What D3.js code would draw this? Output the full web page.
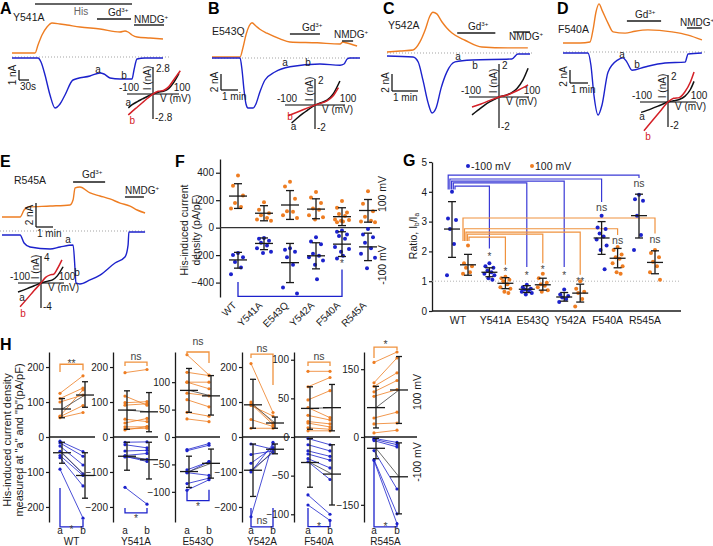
<!DOCTYPE html>
<html><head><meta charset="utf-8">
<script src="https://cdn.jsdelivr.net/npm/d3@7"></script>
<style>body{margin:0;background:#fff}svg{display:block}</style>
</head><body><script>
// ================= DATA =================
const categories = ["WT","Y541A","E543Q","Y542A","F540A","R545A"];

// Panels A-E: whole-cell traces, [time (s), current (nA)]; orange = +100 mV, blue = -100 mV
const traceA_orange = [[0,0.4],[69,0.4],[78,1.2],[90,2.2],[105,3.0],[120,3.4],[144,3.3],[165,3.2],[204,3.0],[264,2.8],[324,2.5],[339,2.6],[348,2.5],[360,2.2],[375,2.0],[414,1.9],[453,1.8]];
const traceA_blue = [[0,-0.1],[78,-0.1],[87,-0.5],[99,-1.8],[114,-3.8],[129,-5.1],[144,-4.7],[159,-3.8],[183,-2.3],[234,-1.9],[264,-1.6],[276,-1.7],[294,-2.1],[324,-2.2],[360,-2.2],[366,-1.3],[375,-0.2],[399,-0.1],[453,-0.1]];
const traceB_orange = [[0,0.12],[99,0.12],[109,1.25],[120,2.9],[131,4.0],[141,4.4],[155,4.0],[169,3.6],[194,3.1],[240,2.4],[275,2.0],[371,1.9],[452,1.75],[462,2.0],[473,1.9],[512,1.5]];
const traceB_blue = [[0,0],[99,0],[106,-1.5],[113,-4.0],[120,-5.75],[127,-6.25],[145,-6.25],[155,-5.75],[169,-4.25],[187,-2.75],[222,-1.75],[275,-1.1],[381,-0.75],[452,-0.9],[466,-0.75],[477,-0.12],[487,0],[522,0]];
const traceC_orange = [[0,0.12],[30,0.24],[60,0.35],[76,1.3],[88,2.7],[99,4.35],[106,4.8],[115,4.6],[127,3.65],[138,2.95],[150,2.35],[180,1.5],[219,0.7],[279,0.6],[325,0.6]];
const traceC_blue = [[0,-0.35],[60,-0.47],[72,-1.06],[83,-3.2],[95,-5.9],[104,-7.05],[113,-6.5],[125,-4.1],[138,-2.25],[157,-1.05],[196,-0.82],[288,-0.7],[302,-0.12],[330,-0.12]];
const traceD_orange = [[0,1.38],[57,1.38],[90,1.54],[100,3.4],[110,6.15],[120,7.4],[130,6.45],[150,4.45],[167,3.1],[207,2.9],[240,3.2],[283,3.4],[363,3.1],[417,2.6],[463,1.85]];
const traceD_blue = [[0,-0.15],[83,-0.15],[93,-2.0],[103,-6.6],[117,-9.7],[130,-8.15],[150,-3.1],[183,-1.2],[200,-0.9],[213,-1.55],[230,-2.8],[273,-2.3],[340,-1.7],[407,-1.55],[417,-0.3],[463,-0.15]];
const traceE_orange = [[7,1.17],[71,1.17],[85,1.75],[99,2.0],[177,2.08],[247,2.17],[258,2.6],[265,3.6],[282,3.67],[318,3.17],[353,2.92],[388,2.67],[424,2.33],[459,2.08],[484,1.75],[512,1.5]];
const traceE_blue = [[7,-0.33],[71,-0.33],[85,-1.0],[106,-1.33],[177,-1.5],[212,-1.33],[258,-1.17],[265,-3.25],[268,-4.33],[282,-4.42],[318,-4.08],[353,-3.67],[406,-2.67],[441,-2.17],[452,-1.17],[455,-0.08],[512,-0.08]];
// time points ("a","b") marked on the -100 mV traces: [time (s), current (nA)]
const marksA = [[258,-1.6],[336,-2.2]];
const marksB = [[258,-1.0],[339,-1.0]];
const marksC = [[164,-0.8],[203,-1.9]];
const marksD = [[197,-0.9],[247,-2.45]];
const marksE = [[240,-1.0],[272,-3.75]];
// solution application periods, [start, end] in s
const solA = [["His",69,360],["Gd",255,357],["NMDG",366,456]];
const solB = [["Gd",275,381],["NMDG",459,498]];
const solC = [["Gd",162,250],["NMDG",291,330]];
const solD = [["Gd",213,327],["NMDG",413,463]];
const solE = [["Gd",258,371],["NMDG",441,508]];
// I-V curves at points a (black) and b (red): [V (mV), I (nA)]
const ivA_a = [[-95,-1.55],[-80,-1.2],[-60,-0.85],[-40,-0.55],[-20,-0.25],[0,0],[20,0.2],[40,0.3],[60,0.6],[80,1.3],[100,2.3]];
const ivA_b = [[-95,-2.35],[-80,-1.95],[-60,-1.45],[-40,-0.95],[-20,-0.45],[0,0],[20,0.3],[40,0.4],[60,0.8],[80,1.6],[105,2.6]];
const ivB_a = [[-78,-1.5],[-60,-1.1],[-40,-0.7],[-20,-0.35],[0,0],[20,0.2],[40,0.4],[60,0.9],[83,2.0]];
const ivB_b = [[-90,-0.9],[-60,-0.6],[-40,-0.4],[-20,-0.2],[0,0],[20,0.15],[40,0.35],[60,0.75],[78,1.45]];
const ivC_a = [[-90,-1.15],[-70,-0.85],[-50,-0.55],[-30,-0.3],[-10,-0.1],[0,0],[20,0.1],[40,0.25],[60,0.55],[80,1.1],[97,1.85]];
const ivC_b = [[-90,-0.65],[-60,-0.45],[-30,-0.22],[0,0],[30,0.15],[60,0.4],[97,0.78]];
const ivD_a = [[-96,-0.83],[-60,-0.55],[-30,-0.28],[0,0],[20,0.1],[40,0.2],[60,0.45],[80,1.0],[93,1.65]];
const ivD_b = [[-86,-2.3],[-60,-1.6],[-30,-0.8],[0,0],[20,0.3],[40,0.35],[60,0.8],[80,1.6],[93,2.4]];
const ivE_a = [[-100,-1.45],[-60,-0.9],[-30,-0.45],[0,0],[30,0.3],[50,0.5],[70,1.1],[96,2.6]];
const ivE_b = [[-91,-3.8],[-60,-2.5],[-30,-1.2],[0,0],[20,0.9],[40,1.3],[55,1.4],[70,2.2],[91,3.7]];

// Panel F: His-induced current density (pA/pF)
const fPos = [[380,305,235,180,150,140],[185,130,105,90,70,60,50],[335,300,210,120,115,90,70],[260,220,180,140,130,90,75,60],[195,145,110,100,85,60,55,50,45,40],[265,175,120,80,50,45,40]];
const fNeg = [[-185,-200,-215,-250,-290,-340],[-75,-80,-95,-110,-130,-150,-175,-185],[-150,-160,-175,-215,-270,-435,-480],[-70,-100,-120,-190,-205,-215,-240,-270,-375],[-20,-30,-50,-60,-80,-140,-155,-175,-205,-225],[-10,-50,-70,-110,-150,-190,-220,-295]];
const fPosMean = [230,105,165,135,80,125];
const fPosErr = [[140,320],[50,160],[60,270],[65,210],[15,145],[40,205]];
const fNegMean = [-235,-115,-255,-205,-120,-140];
const fNegErr = [[-180,-295],[-75,-160],[-115,-400],[-110,-300],[-30,-210],[-40,-240]];
const fTicks = [-400,-200,0,200,400];

// Panel G: ratio Ib/Ia
const gNeg = [[4.0,3.1,3.05,2.75,2.25,1.2],[1.6,1.5,1.45,1.35,1.3,1.25,1.2,1.1,1.05],[0.88,0.8,0.75,0.72,0.7,0.65,0.6,0.55],[0.72,0.55,0.5,0.45,0.4,0.3],[3.2,2.8,2.75,2.6,2.5,2.4,2.2,2.05,1.4],[3.9,3.75,3.7,3.2,2.55,2.05]];
const gPos = [[2.2,1.6,1.5,1.45,1.3,1.25],[1.15,1.1,1.05,1.0,0.9,0.8,0.75,0.65,0.6],[1.25,1.1,0.95,0.9,0.85,0.8,0.7,0.65],[1.0,0.75,0.65,0.6,0.4,0.15],[2.15,2.05,1.9,1.8,1.75,1.6,1.5,1.3,1.25],[2.05,1.95,1.8,1.65,1.5,1.3,1.05]];
const gNegMean = [2.75,1.3,0.73,0.47,2.45,3.2];
const gNegErr = [[1.8,3.67],[1.15,1.45],[0.62,0.85],[0.33,0.62],[1.9,3.0],[2.45,3.92]];
const gPosMean = [1.55,0.93,0.88,0.6,1.77,1.63];
const gPosErr = [[1.2,1.9],[0.75,1.12],[0.7,1.1],[0.3,0.9],[1.45,2.1],[1.25,2.02]];
const gNegSig = ["","*","*","*","ns","ns"];
const gPosSig = ["","*","*","**","ns","ns"];
const gNegBracket = [null,[4.19,2.1],[4.30,1.48],[4.36,1.48],[4.43,3.66],[4.56,4.46]];
const gPosBracket = [null,[2.48,1.55],[2.58,1.6],[2.65,1.22],[2.76,2.55],[3.12,2.6]];
const gTicks = [0,1,2,3,4,5];

// Panel H: paired current density at "a" and "b" (pA/pF)
const hPosA = [[125,110,100,60,58,55],[184,117,98,91,51,40,29,23,20],[150,118,100,100,80,68,45,33],[210,100,95,90,50,25],[85,65,48,38,28,20,18,12,8],[165,120,112,100,90,42,29,9]];
const hPosB = [[175,140,120,135,90,70],[193,91,101,95,44,53,29,25,30],[113,112,100,88,75,55,38,28],[70,40,35,60,30,25],[85,77,60,25,22,17,13,10,8],[188,175,142,125,105,55,31,15]];
const hNegA = [[-12,-17,-26,-41,-53,-59,-92],[-15,-22,-40,-53,-57,-55,-144],[-23,-25,-60,-65,-65,-85,-97],[-20,-50,-75,-95,-100,-228],[-2,-10,-18,-22,-28,-32,-75,-88],[-3,-5,-8,-30,-50,-52]];
const hNegB = [[-42,-55,-80,-105,-110,-140,-232],[-14,-31,-38,-47,-64,-70,-192],[-12,-15,-45,-45,-70,-75,-78],[-35,-40,-30,-45,-20,-15],[-10,-18,-25,-30,-40,-55,-100,-108],[-12,-17,-22,-115,-170,-192]];
const hPosMean = [[80,120],[77,72],[85,75],[92,40],[37,38],[65,104]];
const hPosErr = [[[55,110],[85,158]],[[22,132],[15,127]],[[45,125],[40,112]],[[25,165],[25,57]],[[10,65],[8,68]],[[20,112],[30,178]]];
const hNegMean = [[-45,-110],[-55,-65],[-63,-48],[-95,-35],[-33,-48],[-25,-88]];
const hNegErr = [[[-15,-75],[-45,-175]],[[-15,-95],[-15,-120]],[[-35,-92],[-22,-75]],[[-20,-170],[-20,-48]],[[-2,-65],[-10,-88]],[[-3,-48],[-13,-170]]];
const hSigPos = ["**","ns","ns","ns","ns","*"];
const hSigNeg = ["*","*","*","ns","*","*"];
const hBracketPos = [[208,186,191],[214,203,203],[155,149,135],[237,226,149],[97,92,92],[199,175,192]];
const hBracketNeg = [[-257,-146,-237],[-217,-203,-203],[-116,-96,-96],[-257,-203,-203],[-116,-92,-107],[-199,-51,-188]];
const hTicks = [[-200,-100,0,100,200],[-200,-100,0,100,200],[-100,-50,0,50,100],[-200,-100,0,100,200],[-100,-50,0,50,100],[-150,0,150]];
const hRange = [243,243,155,243,110,188];

// ================= DRAWING =================
const FONT = '"Liberation Sans", Arial, Helvetica, sans-serif';
const OR = "#ee7d22", BL = "#1c22cc", RD = "#d42027", INK = "#1a1a1a", SIG = "#444";
const svg = d3.select("body").append("svg").attr("width",713).attr("height",546).style("font-family",FONT);
const fmtInt = d3.format("d");

function T(g,x,y,s,o={}){
  const size=o.size||10;
  const t=g.append("text").attr("x",x).attr("y",y).attr("font-size",size)
    .attr("fill",o.fill||INK).attr("text-anchor",o.anchor||"start");
  if(o.bold) t.attr("font-weight","bold");
  if(o.rot!==undefined) t.attr("transform",`rotate(${o.rot},${x},${y})`);
  if(Array.isArray(s)){
    let cur=0;
    s.forEach(p=>{
      const sh = p.sup ? -size*0.4 : (p.sub ? size*0.22 : 0);
      const ts=t.append("tspan").text(p.t).attr("dy",sh-cur);
      if(p.sup||p.sub) ts.attr("font-size",size*0.62);
      cur=sh;
    });
  } else t.text(s);
  return t;
}
function L(g,x1,y1,x2,y2,c,w){
  return g.append("line").attr("x1",x1).attr("y1",y1).attr("x2",x2).attr("y2",y2)
    .attr("stroke",c||INK).attr("stroke-width",w||1.2);
}
function styleAxis(sel){
  sel.attr("font-family",FONT).attr("font-size",10);
  sel.select(".domain").attr("stroke",INK).attr("stroke-width",1.3);
  sel.selectAll(".tick line").attr("stroke",INK).attr("stroke-width",1.2);
  sel.selectAll(".tick text").attr("fill",INK);
}
function errBar(g,x,mean,lo,hi,ys,half,cap){
  L(g,x,ys(lo),x,ys(hi),INK,1.3);
  L(g,x-cap,ys(lo),x+cap,ys(lo),INK,1.3);
  L(g,x-cap,ys(hi),x+cap,ys(hi),INK,1.3);
  L(g,x-half,ys(mean),x+half,ys(mean),INK,1.3);
}

// ---------- Trace panels A-E ----------
const solText = {
  His: {s:"His", fill:"#666"},
  Gd: {s:[{t:"Gd"},{t:"3+",sup:true}]},
  NMDG: {s:[{t:"NMDG"},{t:"+",sup:true}]}
};
const tracePanels = [
  {letter:"A",lx:0,ly:14,name:"Y541A",nx:13,ny:21,x0:12,y0:57,pxs:1/3,pxn:10,dotEnd:170,
   orange:traceA_orange,blue:traceA_blue,marks:marksA,sol:solA,
   solLayout:{His:{y:4,tx:81,ty:15,anchor:"middle"},Gd:{y:19,tx:108,ty:16},NMDG:{y:25,tx:134,ty:23}},
   sb:{x:19,y:80,nA:1,sec:30,nl:"1 nA",sl:"30s"},
   iv:{cx:153,cy:94,hx:26,hy:25,imax:2.8,a:ivA_a,b:ivA_b,aOff:[0,-2],bOff:[4,9],lab:"2.8"}},
  {letter:"B",lx:208,ly:14,name:"E543Q",nx:212,ny:35,x0:212,y0:58,pxs:17/60,pxn:8,dotEnd:362,
   orange:traceB_orange,blue:traceB_blue,marks:marksB,sol:solB,
   solLayout:{Gd:{y:34,tx:302,ty:31},NMDG:{y:41,tx:334,ty:38}},
   sb:{x:221,y:90,nA:2,sec:60,nl:"2 nA",sl:"1 min"},
   iv:{cx:315,cy:105,hx:30,hy:24,imax:2,a:ivB_a,b:ivB_b,aOff:[2,7],bOff:[2,4],lab:"2"}},
  {letter:"C",lx:383,ly:14,name:"Y542A",nx:388,ny:29,x0:387,y0:53,pxs:26/60,pxn:8.5,dotEnd:532,
   orange:traceC_orange,blue:traceC_blue,marks:marksC,sol:solC,
   solLayout:{Gd:{y:33,tx:468,ty:30},NMDG:{y:32,tx:509,ty:40}},
   sb:{x:392,y:91,nA:2,sec:60,nl:"2 nA",sl:"1 min"},
   iv:{cx:499,cy:97,hx:30,hy:31,imax:2,a:ivC_a,b:ivC_b,aOff:null,bOff:null,lab:"2"}},
  {letter:"D",lx:557,ly:14,name:"F540A",nx:558,ny:33,x0:563,y0:52,pxs:18/60,pxn:6.5,dotEnd:706,
   orange:traceD_orange,blue:traceD_blue,marks:marksD,sol:solD,
   solLayout:{Gd:{y:21,tx:635,ty:18},NMDG:{y:28,tx:680,ty:26}},
   sb:{x:570,y:83,nA:2,sec:60,nl:"2 nA",sl:"1 min"},
   iv:{cx:668,cy:102,hx:28,hy:25,imax:2,a:ivD_a,b:ivD_b,aOff:[1,8],bOff:[4,9],lab:"2"}},
  {letter:"E",lx:0,ly:167,name:"R545A",nx:14,ny:184,x0:0,y0:231,pxs:17/60,pxn:12,dotEnd:146,
   orange:traceE_orange,blue:traceE_blue,marks:marksE,sol:solE,
   solLayout:{Gd:{y:182,tx:82,ty:178},NMDG:{y:197,tx:125,ty:194}},
   sb:{x:36,y:227,nA:2,sec:60,nl:"2 nA",sl:"1 min"},
   iv:{cx:41,cy:283,hx:23,hy:25,imax:4,a:ivE_a,b:ivE_b,aOff:[4,9],bOff:[3,10],lab:"4"}}
];

tracePanels.forEach(p=>{
  const g=svg.append("g");
  const x=d3.scaleLinear().domain([0,60]).range([p.x0,p.x0+60*p.pxs]);
  const y=d3.scaleLinear().domain([0,1]).range([p.y0,p.y0-p.pxn]);
  T(g,p.lx,p.ly,p.letter,{size:16,bold:true,fill:"#000"});
  T(g,p.nx,p.ny,p.name,{size:10.5});
  L(g,p.x0,y(0),p.dotEnd,y(0),"#999",0.9).attr("stroke-dasharray","1,2");
  const line=d3.line().x(d=>x(d[0])).y(d=>y(d[1])).curve(d3.curveMonotoneX);
  g.append("path").datum(p.orange).attr("d",line).attr("fill","none").attr("stroke",OR).attr("stroke-width",1.4);
  g.append("path").datum(p.blue).attr("d",line).attr("fill","none").attr("stroke",BL).attr("stroke-width",1.4);
  ["a","b"].forEach((lab,i)=>T(g,x(p.marks[i][0]),y(p.marks[i][1]),lab,{size:10,anchor:"middle"}));
  p.sol.forEach(s=>{
    const lay=p.solLayout[s[0]];
    L(g,x(s[1]),lay.y,x(s[2]),lay.y,s[0]==="His"?"#333":INK,1.4);
    const st=solText[s[0]];
    T(g,lay.tx,lay.ty,st.s,{size:10,fill:st.fill||INK,anchor:lay.anchor||"start"});
  });
  const sb=p.sb;
  const vlen=y(0)-y(sb.nA), hlen=x(sb.sec)-x(0);
  L(g,sb.x,sb.y,sb.x,sb.y-vlen,INK,1.3);
  L(g,sb.x,sb.y,sb.x+hlen,sb.y,INK,1.3);
  T(g,sb.x-3,sb.y-vlen/2,sb.nl,{size:10,anchor:"middle",rot:-90});
  T(g,sb.x+1,sb.y+10,sb.sl,{size:10});
  const iv=p.iv;
  const xs=d3.scaleLinear().domain([-100,100]).range([iv.cx-iv.hx,iv.cx+iv.hx]);
  const ys=d3.scaleLinear().domain([-iv.imax,iv.imax]).range([iv.cy+iv.hy,iv.cy-iv.hy]);
  L(g,xs(-100),iv.cy,xs(100),iv.cy,"#555",1.3);
  L(g,iv.cx,ys(iv.imax)-2,iv.cx,ys(-iv.imax),"#222",1.3);
  T(g,xs(-100)+2,iv.cy-3,"-100",{size:10,anchor:"middle"});
  T(g,xs(100)+3,iv.cy-3,"100",{size:10,anchor:"middle"});
  T(g,iv.cx+3,ys(iv.imax)+3,iv.lab,{size:10});
  T(g,iv.cx+2,ys(-iv.imax)+2,"-"+iv.lab,{size:10});
  T(g,iv.cx-2,iv.cy-16,"I (nA)",{size:10,anchor:"middle",rot:-90});
  T(g,iv.cx+7,iv.cy+8,"V (mV)",{size:10});
  const ivl=d3.line().x(d=>xs(d[0])).y(d=>ys(d[1])).curve(d3.curveMonotoneX);
  g.append("path").datum(iv.a).attr("d",ivl).attr("fill","none").attr("stroke","#111").attr("stroke-width",1.5);
  g.append("path").datum(iv.b).attr("d",ivl).attr("fill","none").attr("stroke",RD).attr("stroke-width",1.5);
  if(iv.aOff){
    T(g,xs(iv.a[0][0])+iv.aOff[0],ys(iv.a[0][1])+iv.aOff[1],"a",{size:10,anchor:"middle"});
    T(g,xs(iv.b[0][0])+iv.bOff[0],ys(iv.b[0][1])+iv.bOff[1],"b",{size:10,anchor:"middle",fill:RD});
  }
});

// ---------- Panel F ----------
const jitF=[0,-5,5,-3,3,-7,7,-1,1,-5];
{
  const g=svg.append("g");
  T(g,175,167,"F",{size:16,bold:true,fill:"#000"});
  const fx=d3.scalePoint().domain(categories).range([238,368]);
  const fy=d3.scaleLinear().domain([-505,500]).range([297,159]);
  g.append("g").attr("transform","translate(220,0)")
    .call(d3.axisLeft(fy).tickValues(fTicks).tickFormat(fmtInt).tickSize(4).tickSizeOuter(0).tickPadding(2)).call(styleAxis);
  L(g,220,fy(0),380,fy(0),"#333",1.3);
  categories.forEach((c,i)=>{
    const cx=fx(c);
    fPos[i].forEach((v,j)=>g.append("circle").attr("cx",cx+jitF[j]).attr("cy",fy(v)).attr("r",2).attr("fill",OR));
    fNeg[i].forEach((v,j)=>g.append("circle").attr("cx",cx+jitF[j]).attr("cy",fy(v)).attr("r",2).attr("fill",BL));
    errBar(g,cx,fPosMean[i],fPosErr[i][0],fPosErr[i][1],fy,9,4);
    errBar(g,cx,fNegMean[i],fNegErr[i][0],fNegErr[i][1],fy,9,4);
    T(g,cx-1,306,c,{size:10,anchor:"end",rot:-45});
  });
  const bx1=fx("WT"), bx2=fx("F540A");
  g.append("path").attr("d",`M${bx1},${fy(-395)}V${fy(-500)}H${bx2}V${fy(-305)}`)
    .attr("fill","none").attr("stroke",BL).attr("stroke-width",1.3);
  T(g,bx2,fy(-290),"*",{size:10,anchor:"middle",fill:SIG});
  T(g,188,230,"His-induced current",{size:10.5,anchor:"middle",rot:-90});
  T(g,200,230,"density (pA/pF)",{size:10.5,anchor:"middle",rot:-90});
  T(g,386,194,"100 mV",{size:10.5,anchor:"middle",rot:-90});
  T(g,386,265,"-100 mV",{size:10.5,anchor:"middle",rot:-90});
}

// ---------- Panel G ----------
const jitG=[0,-4,4,-2,2,-5,5,-1,3];
{
  const g=svg.append("g");
  T(g,403,166,"G",{size:16,bold:true,fill:"#000"});
  const gx=d3.scalePoint().domain(categories).range([460,647]);
  const gy=d3.scaleLinear().domain([0,5]).range([311,162]);
  g.append("g").attr("transform","translate(432,0)")
    .call(d3.axisLeft(gy).tickValues(gTicks).tickFormat(fmtInt).tickSize(3).tickSizeOuter(0).tickPadding(2)).call(styleAxis);
  L(g,432,gy(0),681,gy(0),INK,1.3);
  L(g,432,gy(1),681,gy(1),"#aaa",0.9).attr("stroke-dasharray","1,2");
  const off=8;
  categories.forEach((c,i)=>{
    if(!gNegBracket[i]) return;
    const [lv,end]=gNegBracket[i];
    const xl=gx("WT")-off+3-(i-1)*1.7;
    const tx=gx(c)-off;
    g.append("path").attr("d",`M${xl},${gy(4.08)}V${gy(lv)}H${tx}V${gy(end)}`).attr("fill","none").attr("stroke","#3a3ad6").attr("stroke-width",1.2);
    const s=gNegSig[i];
    T(g,tx,gy(end)+(s==="ns"?9:12),s,{size:s==="ns"?10.5:10,anchor:"middle",fill:SIG});
  });
  categories.forEach((c,i)=>{
    if(!gPosBracket[i]) return;
    const [lv,end]=gPosBracket[i];
    const xl=gx("WT")+off+1-(i-1)*1.5;
    const tx=gx(c)+off;
    g.append("path").attr("d",`M${xl},${gy(2.35)}V${gy(lv)}H${tx}V${gy(end)}`).attr("fill","none").attr("stroke","#f0923e").attr("stroke-width",1.2);
    const s=gPosSig[i];
    T(g,tx,gy(end)+(s==="ns"?9:10),s,{size:s==="ns"?10.5:10,anchor:"middle",fill:SIG});
  });
  categories.forEach((c,i)=>{
    const xb=gx(c)-off, xo=gx(c)+off;
    gNeg[i].forEach((v,j)=>g.append("circle").attr("cx",xb+jitG[j]).attr("cy",gy(v)).attr("r",2).attr("fill",BL));
    gPos[i].forEach((v,j)=>g.append("circle").attr("cx",xo+jitG[j]).attr("cy",gy(v)).attr("r",2).attr("fill",OR));
    errBar(g,xb,gNegMean[i],gNegErr[i][0],gNegErr[i][1],gy,8,4);
    errBar(g,xo,gPosMean[i],gPosErr[i][0],gPosErr[i][1],gy,8,4);
    T(g,gx(c)-2,324,c,{size:10.5,anchor:"middle"});
  });
  g.append("circle").attr("cx",468).attr("cy",166).attr("r",2).attr("fill",BL);
  T(g,471,170,"-100 mV",{size:10.5});
  g.append("circle").attr("cx",532).attr("cy",166).attr("r",2).attr("fill",OR);
  T(g,535,170,"100 mV",{size:10.5});
  T(g,417,236,[{t:"Ratio, I"},{t:"b",sub:true},{t:"/I"},{t:"a",sub:true}],{size:10.5,anchor:"middle",rot:-90});
}

// ---------- Panel H ----------
const hLayout=[
  {ax:49,xa:60,xb:83,zEnd:95,posDy:3,negDy:6},
  {ax:113,xa:125,xb:147,zEnd:158,posDy:-2,negDy:9},
  {ax:175,xa:187,xb:209,zEnd:220,posDy:-7,negDy:9},
  {ax:242,xa:251,xb:273,zEnd:290,posDy:-2,negDy:-3},
  {ax:294,xa:308,xb:330,zEnd:340,posDy:-2,negDy:3},
  {ax:364,xa:374,xb:397,zEnd:417,posDy:1,negDy:3}
];
{
  const g=svg.append("g");
  T(g,0,350,"H",{size:16,bold:true,fill:"#000"});
  T(g,11,440,"His-induced current density",{size:11,anchor:"middle",rot:-90});
  T(g,23,440,'measured at "a" and "b"(pA/pF)',{size:11,anchor:"middle",rot:-90});
  categories.forEach((c,i)=>{
    const lay=hLayout[i];
    const y=d3.scaleLinear().domain([-hRange[i],hRange[i]]).range([522,352]);
    g.append("g").attr("transform",`translate(${lay.ax},0)`)
      .call(d3.axisLeft(y).tickValues(hTicks[i]).tickFormat(fmtInt).tickSize(3).tickSizeOuter(0).tickPadding(2)).call(styleAxis);
    L(g,lay.ax,y(0),lay.zEnd,y(0),INK,1.3);
    const pairs=(A,B,col)=>{
      A.forEach((v,j)=>{
        L(g,lay.xa,y(v),lay.xb,y(B[j]),col,0.8);
        g.append("circle").attr("cx",lay.xa).attr("cy",y(v)).attr("r",1.6).attr("fill",col);
        g.append("circle").attr("cx",lay.xb).attr("cy",y(B[j])).attr("r",1.6).attr("fill",col);
      });
    };
    pairs(hPosA[i],hPosB[i],OR);
    pairs(hNegA[i],hNegB[i],BL);
    const ea=lay.xa+2, eb=lay.xb+2;
    L(g,ea,y(hPosMean[i][0]),eb,y(hPosMean[i][1]),"#444",0.8);
    L(g,ea,y(hNegMean[i][0]),eb,y(hNegMean[i][1]),"#444",0.8);
    errBar(g,ea,hPosMean[i][0],hPosErr[i][0][0],hPosErr[i][0][1],y,9,3);
    errBar(g,eb,hPosMean[i][1],hPosErr[i][1][0],hPosErr[i][1][1],y,9,3);
    errBar(g,ea,hNegMean[i][0],hNegErr[i][0][0],hNegErr[i][0][1],y,9,3);
    errBar(g,eb,hNegMean[i][1],hNegErr[i][1][0],hNegErr[i][1][1],y,9,3);
    const bp=hBracketPos[i], bn=hBracketNeg[i];
    g.append("path").attr("d",`M${lay.xa},${y(bp[1])}V${y(bp[0])}H${lay.xb}V${y(bp[2])}`).attr("fill","none").attr("stroke","#f0923e").attr("stroke-width",1.3);
    g.append("path").attr("d",`M${lay.xa},${y(bn[1])}V${y(bn[0])}H${lay.xb}V${y(bn[2])}`).attr("fill","none").attr("stroke",BL).attr("stroke-width",1.3);
    T(g,(lay.xa+lay.xb)/2,y(bp[0])+lay.posDy,hSigPos[i],{size:10.5,anchor:"middle",fill:SIG});
    T(g,(lay.xa+lay.xb)/2,y(bn[0])+lay.negDy,hSigNeg[i],{size:10.5,anchor:"middle",fill:SIG});
    T(g,lay.xa,534,"a",{size:10,anchor:"middle"});
    T(g,lay.xb,534,"b",{size:10,anchor:"middle"});
    T(g,(lay.xa+lay.xb)/2,545,c,{size:10,anchor:"middle"});
  });
  T(g,421,392,"100 mV",{size:10.5,anchor:"middle",rot:-90});
  T(g,421,462,"-100 mV",{size:10.5,anchor:"middle",rot:-90});
}
</script></body></html>
